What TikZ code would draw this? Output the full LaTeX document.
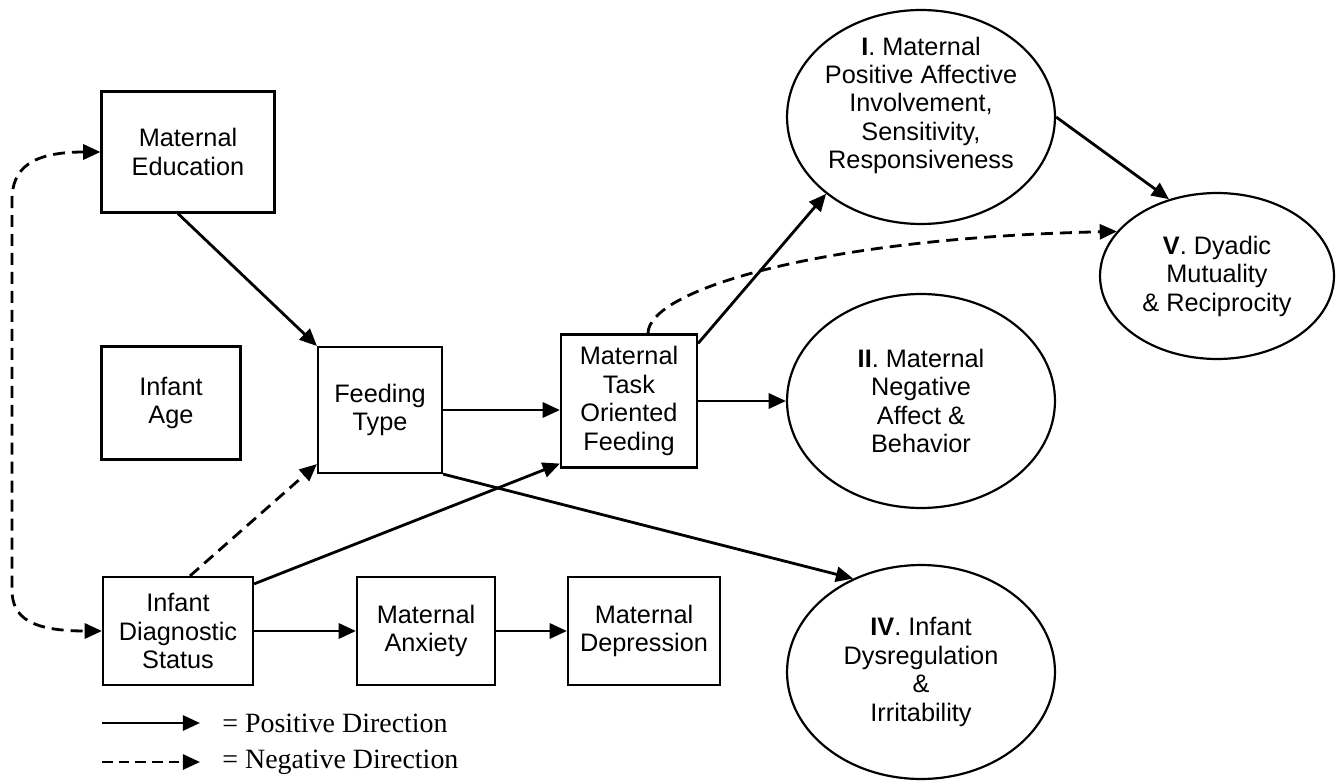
\documentclass[tikz,border=0pt]{standalone}
\usepackage{fontspec}
\setmainfont{Liberation Sans}
\newfontfamily\legendfont{Liberation Serif}
\usetikzlibrary{arrows.meta, shapes.geometric, calc}
\newcommand{\nodefont}{\fontsize{14.4}{16.2}\selectfont}
\newcommand{\keyfont}{\legendfont\fontsize{15.9}{18}\selectfont}
\tikzset{
    common/.style={draw, line width=1.25pt, align=center, font=\nodefont, inner sep=0pt},
    factor/.style={common, rectangle},
    outcome/.style={common, ellipse, inner sep=-20pt, minimum width=5.36cm, minimum height=4.28cm},
    link/.style={line width=1.6pt, -{Triangle[length=9.8pt, width=8.6pt]}},
    posarrow/.style={link},
    negarrow/.style={link, dash pattern=on 6.8pt off 4pt},
    keytext/.style={anchor=west, font=\keyfont, inner sep=0pt}
}
\begin{document}
\begin{tikzpicture}[x=0.02cm, y=-0.02cm]
    \useasboundingbox (0,0) rectangle (1342,784);

    % predictors
    \node[factor, minimum width=3.46cm, minimum height=2.42cm] (MatEdu) at (188,152) {Maternal\\Education};
    \node[factor, minimum width=2.78cm, minimum height=2.26cm] (InfAge) at (171,403) {Infant\\Age};
    \node[factor, minimum width=2.48cm, minimum height=2.52cm] (FeedType) at (380,410) {Feeding\\Type};
    \node[factor, minimum width=2.72cm, minimum height=2.66cm] (MatTask) at (629,401) {Maternal\\Task\\Oriented\\Feeding};
    \node[factor, minimum width=3.00cm, minimum height=2.16cm] (InfDiag) at (178,631) {Infant\\Diagnostic\\Status};
    \node[factor, minimum width=2.76cm, minimum height=2.16cm] (MatAnx) at (426,631) {Maternal\\Anxiety};
    \node[factor, minimum width=3.04cm, minimum height=2.16cm] (MatDep) at (644,631) {Maternal\\Depression};

    % outcomes
    \node[outcome] (OutI) at (921,117) {\textbf{I}. Maternal\\Positive Affective\\Involvement,\\Sensitivity,\\Responsiveness\\\mbox{}};
    \node[outcome] (OutII) at (921,401) {\textbf{II}. Maternal\\Negative\\Affect \&\\Behavior};
    \node[outcome] (OutIV) at (921,672) {\textbf{IV}. Infant\\Dysregulation\\\&\\Irritability};
    \node[outcome, minimum width=4.68cm, minimum height=3.32cm] (OutV) at (1217,276) {\textbf{V}. Dyadic\\Mutuality\\\& Reciprocity};

    % paths
    \draw[posarrow] ($(MatEdu.south)+(-10,0)$) -- (FeedType.north west);
    \draw[negarrow] ($(InfDiag.north)+(12,0)$) -- ($(FeedType.south west)+(0,-10)$);
    \draw[posarrow] ($(InfDiag.north east)+(0,8)$) -- ($(MatTask.south west)+(0,-5)$);
    \draw[posarrow] (InfDiag.east) -- (MatAnx.west);
    \draw[posarrow] (MatAnx.east) -- (MatDep.west);
    \draw[posarrow] (FeedType.east) -- (FeedType.east -| MatTask.west);
    \draw[posarrow] (FeedType.south east) -- (OutIV.126);
    \draw[posarrow] ($(MatTask.north east)+(0,10)$) -- (OutI.219);
    \draw[posarrow] (MatTask.east) -- (OutII.west);
    \draw[posarrow] (OutI.east) -- (OutV.122);
    \draw[negarrow] ($(MatTask.north)+(19,0)$) .. controls (648,290) and (820,238) .. (OutV.156);
    \draw[negarrow, {Triangle[length=9.8pt, width=8.6pt]}-{Triangle[length=9.8pt, width=8.6pt]}]
        (MatEdu.west) .. controls (32,152) and (12,168) .. (12,200) -- (12,590)
        .. controls (12,618) and (32,631) .. (InfDiag.west);

    % key
    \coordinate (posA) at (102,723);
    \coordinate (posB) at (200,723);
    \coordinate (negA) at (102,762);
    \coordinate (negB) at (200,762);
    \draw[posarrow] (posA) -- (posB);
    \draw[negarrow, dash pattern=on 6pt off 3.5pt] (negA) -- (negB);
    \node[keytext] (posKey) at (222,723) {= Positive Direction};
    \node[keytext] (negKey) at (222,762) {= Negative Direction};
\end{tikzpicture}
\end{document}
